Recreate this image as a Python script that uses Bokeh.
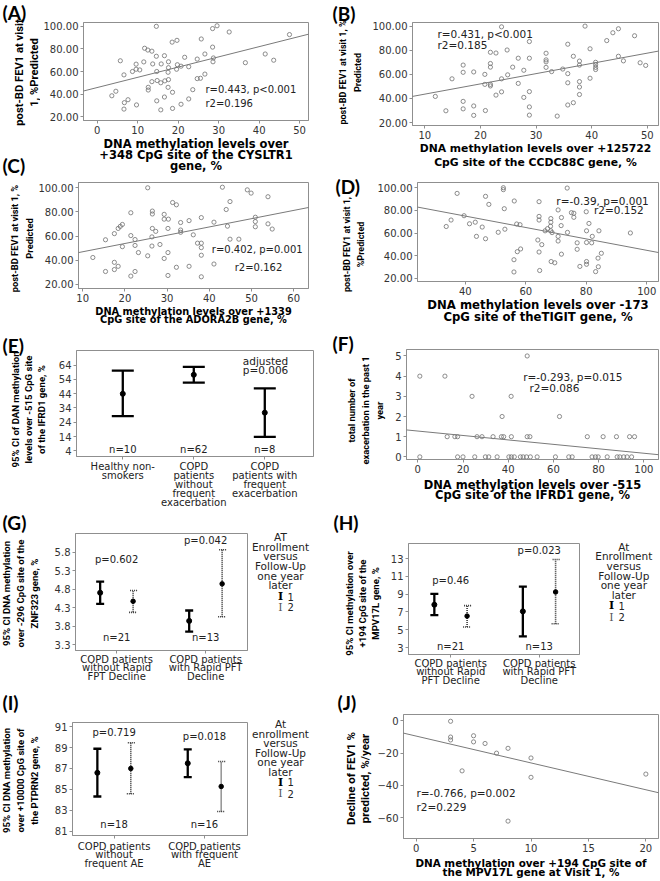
import math
from bokeh.plotting import figure
from bokeh.layouts import row, column
from bokeh.models import (Label, Range1d, FixedTicker, PrintfTickFormatter,
                          ColumnDataSource, Whisker, TeeHead, Slope)
from bokeh.embed import file_html
from bokeh.resources import INLINE

# ------------------------------------------------------------------ data
fev_ticks = [20, 40, 60, 80, 100]

a_x = [14.6, 29.6, 28.5, 32.6, 47.5, 25.7, 19.7, 18.5, 11.7, 12.5, 13.5, 28.5, 41.5, 43.6, 5.7, 11.5,
       14.6, 16.6, 17.6, 21.6, 24.7, 26.6, 28.7, 28.6, 36.6, 9.6, 13.7, 15.8, 19.8, 20.7, 22.6, 17.6,
       19.6, 6.6, 8.7, 9.6, 10.5, 14.7, 17.5, 26.6, 25.5, 24.7, 14.8, 15.7, 16.7, 17.6, 13.5, 12.6,
       12.6, 23.6, 17.5, 18.6, 4.6, 3.6, 7.6, 6.7, 9.7, 14.7, 16.6, 22.6, 20.7, 6.6, 15.7, 18.6]
a_y = [100, 100.5, 98, 95, 92.7, 88.8, 87.6, 86, 80.6, 79, 78, 81.6, 75.5, 70, 69.5, 68.5, 73.5, 74,
       68.6, 72.6, 71, 75.5, 72, 68.6, 67.8, 66.5, 66.7, 66.7, 66, 64.7, 64.2, 63.4, 62, 57, 60, 62,
       61.4, 60, 59.3, 57.7, 54, 53.7, 52, 50, 51.7, 52.8, 51, 46, 43.6, 43.9, 46, 41.6, 42.5, 38.5,
       35, 32.4, 30.4, 34, 37.4, 35.7, 31, 26.7, 26, 27.3]
a_fit = [45.8, 0.905]
a_xticks = [0, 10, 20, 30, 40, 50]

b_x = [23.8, 38.8, 44.8, 43.8, 47.7, 42.7, 28.8, 35.7, 39.7, 24.8, 21.8, 22.8, 31.8, 36.7, 44.8,
       45.7, 37.8, 26.8, 28.8, 31.8, 31.8, 16.9, 21.8, 21.8, 25.8, 31.8, 34.8, 37.8, 40.7, 40.7,
       40.7, 40.7, 48.7, 49.7, 27.8, 32.8, 16.9, 18.8, 20.8, 24.9, 35.7, 14.9, 23.8, 20.8, 21.8,
       21.8, 26.8, 35.7, 37.8, 37.8, 39.7, 28.8, 23.8, 22.8, 27.8, 37.8, 11.9, 16.9, 36.7, 35.7,
       18.8, 28.8, 13.8, 16.9, 20.9, 18.8, 28.8, 33.8]
b_y = [99.4, 100, 97.8, 94.5, 92, 88, 87.2, 85, 81.2, 80.2, 78.3, 77.7, 77.5, 75, 75, 71.2, 71,
       73.4, 73.4, 72, 70.4, 67.7, 69, 66, 66, 65.8, 64.4, 67.7, 68, 65.8, 64, 70, 69.6, 67.4, 63.4,
       62.3, 61.7, 62, 60, 59.6, 60.6, 56.3, 56.3, 51.7, 51.7, 50.4, 52.5, 53, 54, 49.5, 56.8, 45.7,
       45.5, 42.8, 40.9, 43.3, 41.7, 37.6, 36.5, 34.6, 33.8, 33, 29.8, 31.4, 30, 26, 26.2, 25.4]
b_fit = [35.1, 0.85]
b_xticks = [10, 20, 30, 40, 50]

c_x = [25.4, 43.1, 49, 49.9, 53.9, 31.3, 32.2, 44.9, 21.4, 26.5, 26.5, 29.3, 44, 18.9, 18.4, 19.4,
       26.5, 29.3, 30.3, 33.2, 35.2, 38.1, 41.1, 44.3, 50.9, 50.9, 50.9, 53.9, 54.9, 30.2, 33.2,
       33.2, 27.3, 26.4, 15.4, 17.5, 21.4, 22.4, 36.2, 37.2, 38.1, 38.1, 44.9, 47, 28.3, 22.4, 26.4,
       19.4, 23.2, 30.2, 25.4, 29.3, 38.1, 12.4, 17.5, 18.4, 17.5, 15.4, 22.4, 32.2, 35.2, 41.1,
       21.4, 30.2, 38.1]
c_y = [100, 100.5, 98.3, 95.6, 92.6, 87.8, 85.9, 88.6, 79.3, 80.7, 78.3, 78, 82, 68, 66.3, 69.6,
       66.3, 74, 74, 71.2, 72.8, 75.3, 71.5, 68.2, 75.6, 72, 67.7, 70.1, 65.8, 66.3, 65, 63.1, 63.9,
       59.3, 56.9, 62, 60.4, 57.1, 61, 54.1, 54.1, 50.4, 57.4, 57.4, 53, 52.2, 51.7, 51.2, 46.3,
       46.3, 43.6, 41.4, 44.1, 42.2, 38.2, 34.9, 32.2, 30.6, 30.6, 34.1, 34.9, 36.8, 26.8, 27.3, 26.2]
c_fit = [40.1, 0.686]
c_xticks = [10, 20, 30, 40, 50, 60]

d_x = [52.6, 52.6, 73.7, 37.3, 46.7, 47.8, 56.2, 64.4, 52.9, 70.7, 80, 75.1, 75.9, 75.9, 39.6, 64.4,
       71.8, 35.3, 64.4, 68.3, 33.7, 41.4, 43.3, 45.6, 57, 58.1, 71.7, 68.3, 68.2, 67.2, 66.4, 68.3,
       80.9, 80.1, 84.2, 94.6, 73.8, 68.7, 53.1, 50.9, 43.7, 46.7, 64, 70.7, 70.7, 80.1, 82, 77,
       81.8, 65.3, 77, 58.3, 57.2, 64.4, 71.8, 85, 83.9, 56.1, 68.4, 69.6, 80.1, 80.1, 77.9, 84,
       56.1, 64.6, 83.1]
d_y = [100, 98.3, 99.7, 95, 92.4, 85.3, 88.3, 87.7, 81.5, 80.4, 78.8, 78, 77.5, 73.9, 75.3, 74.7,
       73.7, 71.5, 71.5, 72.8, 65.8, 68.2, 69.6, 65.3, 68, 67.4, 66.6, 69.6, 66, 63.9, 62, 62, 68.5,
       62, 62, 60.1, 60.6, 60.4, 63.4, 60.7, 57.1, 55, 53.9, 57.1, 53, 51.7, 57.1, 51.4, 51.4, 49.8,
       45.7, 46, 43.6, 43.3, 41.4, 42.2, 37.9, 36.5, 34.9, 33.8, 34.9, 32.5, 30.6, 30.3, 25.7, 27, 26]
d_fit = [95.1, -0.503]
d_xticks = [40, 60, 80, 100]

e_groups = ["Healthy non-\nsmokers", "COPD\npatients\nwithout\nfrequent\nexacerbation",
            "COPD\npatients with\nfrequent\nexacerbation"]
e_mean = [43.9, 57.2, 30.7]
e_low = [28.3, 51.7, 13.7]
e_high = [60.1, 62.7, 47.7]
e_n = [10, 62, 8]
e_yticks = [4, 14, 24, 34, 44, 54, 64]

f_x = [48.4, 0.9, 12, 24, 41.3, 37.3, 62.7,
       13.0, 16.4, 17.6, 26.2, 28.4, 33.3, 37, 38, 41.4, 48.4, 49.6, 75, 82, 87.9, 93.7, 95.9,
       0.9, 17.6, 20, 25.2, 29.9, 31.4, 35.1, 40.3, 41.4, 42.7, 45.4, 46.6, 48.1, 49.8, 52.8, 60.9,
       66.8, 68.3, 77.1, 78.6, 79.8, 83.8, 88.2, 89.4, 91.1, 92.6, 94.6]
f_y = [5, 4, 4, 3, 3, 2, 2,
       1, 1, 1, 1, 1, 1, 1, 1, 1, 1, 1, 1, 1, 1, 1, 1,
       0, 0, 0, 0, 0, 0, 0, 0, 0, 0, 0, 0, 0, 0, 0, 0, 0, 0, 0, 0, 0, 0, 0, 0, 0, 0, 0]
f_fit = [1.28, -0.011]
f_xticks = [0, 20, 40, 60, 80, 100]
f_yticks = [0, 1, 2, 3, 4, 5]

g_groups = ["COPD patients\nwithout Rapid\nFPT Decline", "COPD patients\nwith Rapid PFT\nDecline"]
g_mean1 = [4.70, 3.94]
g_low1 = [4.40, 3.65]
g_high1 = [5.00, 4.22]
g_mean2 = [4.47, 4.94]
g_low2 = [4.17, 4.05]
g_high2 = [4.76, 5.86]
g_n = [21, 13]
g_p = ["p=0.602", "p=0.042"]
g_yticks = [3.3, 3.8, 4.3, 4.8, 5.3, 5.8]

h_groups = ["COPD patients\nwithout Rapid\nPFT Decline", "COPD patients\nwith Rapid PFT\nDecline"]
h_mean1 = [7.82, 7.07]
h_low1 = [6.65, 4.25]
h_high1 = [9.03, 9.86]
h_mean2 = [6.54, 9.25]
h_low2 = [5.32, 5.68]
h_high2 = [7.72, 12.9]
h_n = [21, 13]
h_p = ["p=0.46", "p=0.023"]
h_yticks = [3, 5, 7, 9, 11, 13]

i_groups = ["COPD patients\nwithout\nfrequent AE", "COPD patients\nwith frequent\nAE"]
i_mean1 = [86.59, 87.5]
i_low1 = [84.32, 86.17]
i_high1 = [88.89, 88.82]
i_mean2 = [87.0, 85.28]
i_low2 = [84.58, 82.89]
i_high2 = [89.46, 87.67]
i_n = [18, 16]
i_p = ["p=0.719", "p=0.018"]
i_yticks = [81, 83, 85, 87, 89, 91]

series_names = ["1", "2"]

j_x = [3, 3, 3, 5, 5, 6, 8, 7, 10, 4, 10, 20, 8]
j_y = [-0.2, -10, -11.8, -9.2, -13, -14, -17, -20, -23, -31, -35, -33, -62.2]
j_fit = [-9.4, -1.667]
j_xticks = [0, 5, 10, 15, 20]
j_yticks = [0, -20, -40, -60]

# ------------------------------------------------------------------ layout helpers
COLW = 330
NUM = "DejaVu Sans"
NARROW = "Roboto"
LETTER = "Lato"
AX = "#8f8f8f"
OFF = 0.185


def noalign(f):
    if "frame_align" in f.properties():
        f.frame_align = False


def aux(w, h):
    f = figure(width=w, height=h, x_range=Range1d(0, w), y_range=Range1d(0, h),
               x_axis_type=None, y_axis_type=None, output_backend="svg",
               toolbar_location=None, title=None, min_border=0, outline_line_color=None)
    f.xgrid.visible = False
    f.ygrid.visible = False
    noalign(f)
    return f


class Panel:
    """one panel = left strip (letter + y title) | plot | optional legend strip"""

    def __init__(self, col, top, bot, strip_r, frame, xr, yr, legend_l=None):
        self.c0 = 0 if col == 0 else COLW
        self.y0 = round(top)
        H = round(bot) - self.y0
        sw = round(strip_r - self.c0)
        me = round(legend_l - self.c0) if legend_l else COLW
        self.sw, self.me = sw, me
        l, t, r, b = frame
        self.left = aux(sw, H)
        self.right = aux(COLW - me, H) if legend_l else None
        p = figure(width=me - sw, height=H, x_range=Range1d(*xr), y_range=Range1d(*yr),
                   output_backend="svg", toolbar_location=None, title=None,
                   min_border_left=round(l - self.c0) - sw,
                   min_border_right=me - round(r - self.c0),
                   min_border_top=round(t) - self.y0,
                   min_border_bottom=round(bot) - round(b))
        noalign(p)
        p.xgrid.visible = False
        p.ygrid.visible = False
        p.outline_line_color = AX
        p.outline_line_width = 1
        for ax in (p.xaxis[0], p.yaxis[0]):
            ax.axis_line_color = AX
            ax.major_tick_line_color = AX
            ax.minor_tick_line_color = None
            ax.major_tick_out = 3
            ax.major_tick_in = 0
            ax.major_label_standoff = 2
            ax.major_label_text_font = NUM
            ax.major_label_text_font_size = "10px"
            ax.major_label_text_color = "#333333"
        self.p = p

    def layout(self):
        kids = [self.left, self.p] + ([self.right] if self.right is not None else [])
        return row(*kids, spacing=0)

    def ticks(self, xt=None, yt=None, yfmt=None):
        if xt is not None:
            self.p.xaxis.ticker = FixedTicker(ticks=xt)
        if yt is not None:
            self.p.yaxis.ticker = FixedTicker(ticks=yt)
        if yfmt:
            self.p.yaxis.formatter = PrintfTickFormatter(format=yfmt)

    def text(self, where, s, x, y, size, font=NUM, bold=False, align="center",
             baseline="middle", angle=0.0, lh=1.2, color="#222222", xdata=False):
        fig = {"left": self.left, "main": self.p, "right": self.right}[where]
        ox = {"left": 0, "main": self.sw, "right": self.me}[where]
        xv = x if xdata else (x - self.c0) - ox
        fig.add_layout(Label(x=xv, y=y - self.y0,
                             x_units="data" if xdata else "canvas", y_units="canvas", text=s,
                             text_font=font, text_font_size=f"{size}px",
                             text_font_style="bold" if bold else "normal",
                             text_align=align, text_baseline=baseline,
                             angle=angle, text_line_height=lh, text_color=color))

    def letter(self, s, x, y):
        self.text("left", s, x, y, 19, font=LETTER, bold=True, align="left", color="black")

    def ylabel(self, s, x, y, size, lh):
        self.text("left", s, x, y, size, font=NARROW, bold=True, angle=math.pi / 2, lh=lh,
                  color="black")

    def xlabel(self, s, size, lh, standoff):
        ax = self.p.xaxis[0]
        ax.axis_label = s
        ax.axis_label_text_font = NUM
        ax.axis_label_text_font_style = "bold"
        ax.axis_label_text_font_size = f"{size}px"
        ax.axis_label_text_line_height = lh
        ax.axis_label_text_color = "black"
        ax.axis_label_standoff = standoff

    def categories(self, labels, standoff, lh=0.8):
        idx = list(range(1, len(labels) + 1))
        ax = self.p.xaxis[0]
        ax.ticker = FixedTicker(ticks=idx)
        ax.major_label_overrides = {i: s for i, s in zip(idx, labels)}
        ax.major_label_text_line_height = lh
        ax.major_label_text_color = "#222222"
        ax.major_label_standoff = standoff
        return idx

    def legend(self, title, cx, cy, icon_x, y1, y2):
        self.text("right", title, cx, cy, 10.5, lh=0.8)
        self.text("right", "I", icon_x, y1, 11, font="DejaVu Serif", bold=True, color="black")
        self.text("right", series_names[0], icon_x + 7, y1, 10, align="left")
        self.text("right", "I", icon_x, y2, 11, font="DejaVu Serif", color="#555555")
        self.text("right", series_names[1], icon_x + 7, y2, 10, align="left")


def scatter(P, xs, ys, fit):
    P.p.scatter(xs, ys, marker="circle", size=4.2, fill_color=None, line_color="#707070",
                line_width=0.8)
    P.p.add_layout(Slope(gradient=fit[1], y_intercept=fit[0], line_color="#7a7a7a", line_width=1))


def errbars(P, xs, mean, low, high, solid, cap):
    src = ColumnDataSource(dict(x=xs, lower=low, upper=high))
    if solid:
        kw = dict(line_color="black", line_width=2.3)
    else:
        kw = dict(line_color="#333333", line_width=1.6, line_dash="1 1")
    P.p.add_layout(Whisker(source=src, base="x", lower="lower", upper="upper",
                           dimension="height", upper_head=TeeHead(size=cap, **kw),
                           lower_head=TeeHead(size=cap, **kw), **kw))
    P.p.scatter(xs, mean, marker="circle", size=5 if solid else 4.5, color="black")


# ------------------------------------------------------------------ (A)
A = Panel(0, 0, 176, 40.5, (82, 22, 308, 125), (-3.4, 52.2), (16.6, 103.4))
A.ticks(a_xticks, fev_ticks, "%.2f")
scatter(A, a_x, a_y, a_fit)
A.letter("(A)", 2, 12)
A.letter("(C)", 2, 165)
A.ylabel("post-BD FEV1 at visit\n1, %Predicted", 26.5, 72, 11.2, 1.15)
A.xlabel("DNA methylation levels over\n+348 CpG site of the CYSLTR1\ngene, %", 11.5, 0.82, 0)
A.text("main", "r=0.443, p<0.001\nr2=0.196", 205, 96, 10, align="left", lh=1.2)

# ------------------------------------------------------------------ (C)
C = Panel(0, 176, 328, 35, (77, 182, 308, 289), (9.0, 63.5), (16.5, 104.4))
C.ticks(c_xticks, fev_ticks, "%.2f")
scatter(C, c_x, c_y, c_fit)
C.ylabel("post-BD FEV1 at visit 1, %\nPredicted", 21.5, 238, 9.3, 1.4)
C.xlabel("DNA methylation levels over +1339\nCpG site of the ADORA2B gene, %", 9.8, 0.8, 1)
C.text("main", "r=0.402, p=0.001", 256.7, 249.3, 10)
C.text("main", "r2=0.162", 258, 266.7, 10)

# ------------------------------------------------------------------ (E)
E = Panel(0, 328, 510, 48, (76, 350, 313, 462), (0.348, 3.686), (0.0, 74.2))
E.ticks(None, e_yticks)
ex = E.categories(e_groups, 1, 0.82)
errbars(E, ex, e_mean, e_low, e_high, True, 22)
E.letter("(E)", 2, 345)
E.ylabel("95% CI of DAN methylation\nlevels over -515 CpG site\nof the IFRD1 gene, %", 28, 409, 9.6, 1.2)
E.text("main", "adjusted\np=0.006", 265, 365, 10.5, lh=0.8)
for k in range(len(e_groups)):
    E.text("main", f"n={e_n[k]}", ex[k], 449, 10, xdata=True)

# ------------------------------------------------------------------ (G)
G = Panel(0, 510, 685, 44, (75, 533.3, 246.7, 650), (0.538, 2.47), (3.14, 6.3), legend_l=249)
G.ticks(None, g_yticks, "%.1f")
gx = G.categories(g_groups, 0)
errbars(G, [v - OFF for v in gx], g_mean1, g_low1, g_high1, True, 8)
errbars(G, [v + OFF for v in gx], g_mean2, g_low2, g_high2, False, 8)
G.letter("(G)", 2, 521.5)
G.ylabel("95% CI DNA methylation\nover -296 CpG site of the\nZNF323 gene, %", 20, 593, 9.6, 1.25)
G.legend("AT\nEnrollment\nversus\nFollow-Up\none year\nlater", 280, 560.7, 280, 596, 606.7)
for k in range(len(g_groups)):
    G.text("main", f"n={g_n[k]}", gx[k], 636.7, 10, xdata=True)
G.text("main", g_p[0], gx[0], 559.3, 10, xdata=True)
G.text("main", g_p[1], gx[1], 540, 10, xdata=True)

# ------------------------------------------------------------------ (I)
I = Panel(0, 685, 881, 44, (71.7, 721.7, 246.7, 835), (0.54, 2.476), (80.59, 91.4), legend_l=249)
I.ticks(None, i_yticks)
ix = I.categories(i_groups, 2)
errbars(I, [v - OFF for v in ix], i_mean1, i_low1, i_high1, True, 8)
errbars(I, [v + OFF for v in ix], i_mean2, i_low2, i_high2, False, 8)
I.letter("(I)", 2, 701.5)
I.ylabel("95% CI DNA methylation\nover +10000 CpG site of\nthe PTPRN2 gene, %", 20, 780, 9.6, 1.25)
I.legend("At\nenrollment\nversus\nFollow-Up\none year\nlater", 280, 747.5, 280, 781.7, 793.3)
for k in range(len(i_groups)):
    I.text("main", f"n={i_n[k]}", ix[k], 824, 10, xdata=True)
I.text("main", i_p[0], ix[0], 731.7, 10, xdata=True)
I.text("main", i_p[1], ix[1], 735.7, 10, xdata=True)

# ------------------------------------------------------------------ (B)
B = Panel(1, 0, 172, 364, (412, 22, 658, 127), (7.8, 52.0), (17.6, 103.0))
B.ticks(b_xticks, fev_ticks, "%.2f")
scatter(B, b_x, b_y, b_fit)
B.letter("(B)", 332, 12.5)
B.ylabel("post-BD FEV1 at visit 1, %\nPredicted", 350, 72, 9, 1.55)
B.xlabel("DNA methylation levels over +125722\nCpG site of the CCDC88C gene, %", 10.8, 1.15, 0)
B.text("main", "r=0.431, p<0.001\nr2=0.185", 437, 38.8, 10.5, align="left", lh=0.88)

# ------------------------------------------------------------------ (D)
D = Panel(1, 172, 327, 368, (416.7, 181.7, 658, 289), (24.2, 103.9), (17.3, 104.6))
D.ticks(d_xticks, fev_ticks, "%.2f")
scatter(D, d_x, d_y, d_fit)
D.letter("(D)", 335, 185.5)
D.ylabel("post-BD FEV1 at visit 1,\n%Predicted", 353, 244, 9, 1.4)
D.xlabel("DNA methylation levels over -173\nCpG site of theTIGIT gene, %", 11.7, 0.92, 0)
D.text("main", "r=-0.39, p=0.001", 648.3, 200, 10.5, align="right")
D.text("main", "r2=0.152", 643.3, 209.3, 10.5, align="right")

# ------------------------------------------------------------------ (F)
F = Panel(1, 327, 505, 386, (406, 349.3, 658, 465), (-5.0, 106.5), (-0.13, 5.32))
F.ticks(f_xticks, f_yticks)
scatter(F, f_x, f_y, f_fit)
F.letter("(F)", 332, 343)
F.ylabel("total number of\nexacerbation in the past 1\nyear", 365, 410, 9.3, 1.3)
F.xlabel("DNA methylation levels over -515\nCpG site of the IFRD1 gene, %", 11.5, 0.75, 2)
F.text("main", "r=-0.293, p=0.015", 522.7, 376, 10.5, align="left")
F.text("main", "r2=0.086", 529, 387, 10.5, align="left")

# ------------------------------------------------------------------ (H)
Hh = Panel(1, 505, 689, 384, (408.3, 543.3, 579.3, 660), (0.523, 2.455), (2.22, 14.7), legend_l=585)
Hh.ticks(None, h_yticks)
hx = Hh.categories(h_groups, 0)
errbars(Hh, [v - OFF for v in hx], h_mean1, h_low1, h_high1, True, 8)
errbars(Hh, [v + OFF for v in hx], h_mean2, h_low2, h_high2, False, 8)
Hh.letter("(H)", 333, 521.5)
Hh.ylabel("95% CI methylation over\n+194 CpG site of the\nMPV17L gene, %", 362, 603, 9.6, 1.2)
Hh.legend("At\nEnrollment\nversus\nFollow-Up\none year\nlater", 623.3, 570.3, 611, 605, 616.7)
for k in range(len(h_groups)):
    Hh.text("main", f"n={h_n[k]}", hx[k], 645.7, 10, xdata=True)
Hh.text("main", h_p[0], hx[0], 580, 10, xdata=True)
Hh.text("main", h_p[1], hx[1], 550, 10, xdata=True)

# ------------------------------------------------------------------ (J)
J = Panel(1, 689, 881, 374, (401.7, 714, 658, 843.3), (-1.1, 21.1), (-73.0, 4.0))
J.ticks(j_xticks, j_yticks)
scatter(J, j_x, j_y, j_fit)
J.letter("(J)", 337, 701.5)
J.ylabel("Decline of FEV1 %\npredicted, %/year", 357.5, 778, 11.5, 1.0)
J.xlabel("DNA methylation over +194 CpG site of\nthe MPV17L gene at Visit 1, %", 10.4, 0.8, 2)
J.text("main", "r=-0.766, p=0.002\nr2=0.229", 416, 799.5, 10.5, align="left", lh=1.2)

left_col = column(A.layout(), C.layout(), E.layout(), G.layout(), I.layout(), spacing=0)
right_col = column(B.layout(), D.layout(), F.layout(), Hh.layout(), J.layout(), spacing=0)
page = row(left_col, right_col, spacing=0)
open("out.html", "w").write(file_html(page, INLINE))
